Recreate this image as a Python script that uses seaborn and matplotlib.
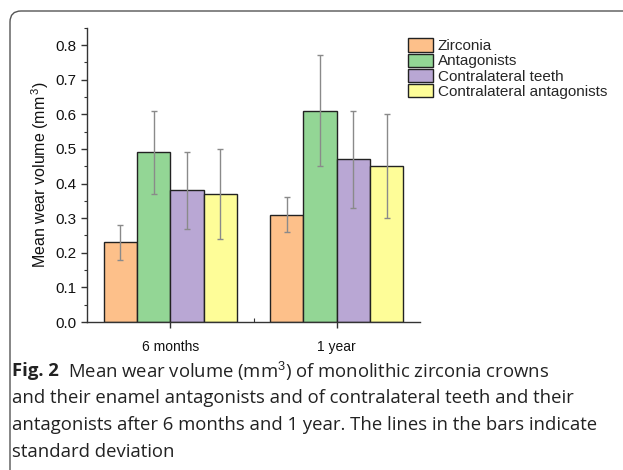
import matplotlib
matplotlib.use("Agg")
import matplotlib.pyplot as plt
from matplotlib.patches import FancyBboxPatch
from matplotlib.transforms import IdentityTransform
from matplotlib.ticker import MultipleLocator, FixedLocator
import seaborn as sns
import pandas as pd
import numpy as np

# ---- data ----
periods = ["6 months", "1 year"]
groups = ["Zirconia", "Antagonists", "Contralateral teeth", "Contralateral antagonists"]
means_6m = [0.23, 0.49, 0.38, 0.37]
sd_6m = [0.05, 0.12, 0.11, 0.13]
means_1y = [0.31, 0.61, 0.47, 0.45]
sd_1y = [0.05, 0.16, 0.14, 0.15]
colors = ["#FDC08A", "#93D695", "#B9A7D4", "#FEFD98"]

rows = []
for p, m, s in [(periods[0], means_6m, sd_6m), (periods[1], means_1y, sd_1y)]:
    for g, mv, sv in zip(groups, m, s):
        rows.append({"period": p, "group": g, "mean": mv, "sd": sv})
df = pd.DataFrame(rows)

sns.set_theme(style="white")
plt.rcParams["font.family"] = ["Liberation Sans", "DejaVu Sans"]
plt.rcParams["mathtext.fontset"] = "custom"
plt.rcParams["mathtext.rm"] = "Liberation Sans"

W, H = 623, 470
fig = plt.figure(figsize=(W / 100, H / 100), dpi=100)
ax = fig.add_axes([87 / W, 1 - 322 / H, 333 / W, 294.3 / H])

sns.barplot(data=df, x="period", y="mean", hue="group", order=periods,
            hue_order=groups, palette=colors, errorbar=None, width=0.8,
            edgecolor="#222222", linewidth=1.0, saturation=1, ax=ax)

# error bars from bar geometry
for i, g in enumerate(groups):
    cont = ax.containers[i]
    sub = df[df.group == g].set_index("period").loc[periods]
    xs = [b.get_x() + b.get_width() / 2 for b in cont]
    ax.errorbar(xs, sub["mean"].values, yerr=sub["sd"].values, fmt="none",
                ecolor="#8a8a8a", elinewidth=1.0, capsize=2.3, capthick=1.0, zorder=5)

yt = [0, 0.1, 0.2, 0.3, 0.4, 0.5, 0.6, 0.7, 0.8]
ax.set_xlim(-0.5, 1.5)
ax.set_ylim(0, 0.85)
ax.yaxis.set_major_locator(FixedLocator(yt))
ax.yaxis.set_minor_locator(MultipleLocator(0.05))
ax.set_yticklabels([f"{v:.1f}" for v in yt])
ax.xaxis.set_minor_locator(FixedLocator([0.5]))
ax.set_xlabel("")
ax.set_ylabel("Mean wear volume (mm$^{\\,3}$)", fontsize=11.5, labelpad=3, color="#111111")
for side in ["top", "right"]:
    ax.spines[side].set_visible(False)
for side in ["left", "bottom"]:
    ax.spines[side].set_color("#333333")
    ax.spines[side].set_linewidth(1.0)
ax.tick_params(axis="both", which="major", direction="out", length=4, width=1,
               color="#333333", labelsize=11, labelcolor="#111111", left=True, bottom=True)
ax.tick_params(axis="x", which="major", labelsize=10, pad=9)
ax.tick_params(axis="y", which="minor", direction="out", length=2, width=0.8,
               color="#333333", left=True)
ax.tick_params(axis="x", which="minor", direction="in", length=3, width=0.8,
               color="#333333", bottom=True)

# legend
leg = ax.get_legend()
if leg is not None:
    leg.remove()
handles, labels = ax.get_legend_handles_labels()
fig.legend(handles[:4], labels[:4], loc="upper left",
           bbox_to_anchor=(408 / W, 1 - 38.5 / H), frameon=False, fontsize=11,
           handlelength=1.65, handleheight=0.95, labelspacing=0.02,
           handletextpad=0.3, borderpad=0, borderaxespad=0)

# border box
box = FancyBboxPatch((10, -30), 800, H - 11 + 30, boxstyle="round,pad=0,rounding_size=11",
                     transform=IdentityTransform(), fill=False, edgecolor="#555555",
                     linewidth=1.0, figure=fig)
fig.patches.append(box)

# caption
cap_font = "Open Sans"
fs = 13.3
x0 = 12 / W
y1 = 1 - 371 / H
t = fig.text(x0, y1, "Fig. 2", fontsize=fs, fontweight="bold", family=cap_font,
             va="center", ha="left", color="#222222")
fig.canvas.draw()
bb = t.get_window_extent()
fig.text((bb.x1 + 9) / W, y1,
         r"Mean wear volume (mm$^{3}$) of monolithic zirconia crowns",
         fontsize=fs, family=cap_font, va="center", ha="left", color="#222222")
lines = ["and their enamel antagonists and of contralateral teeth and their",
         "antagonists after 6 months and 1 year. The lines in the bars indicate",
         "standard deviation"]
for k, ln in enumerate(lines):
    fig.text(x0, 1 - (398 + 27 * k) / H, ln, fontsize=fs, family=cap_font,
             va="center", ha="left", color="#222222")

fig.savefig("out.png", dpi=100)
